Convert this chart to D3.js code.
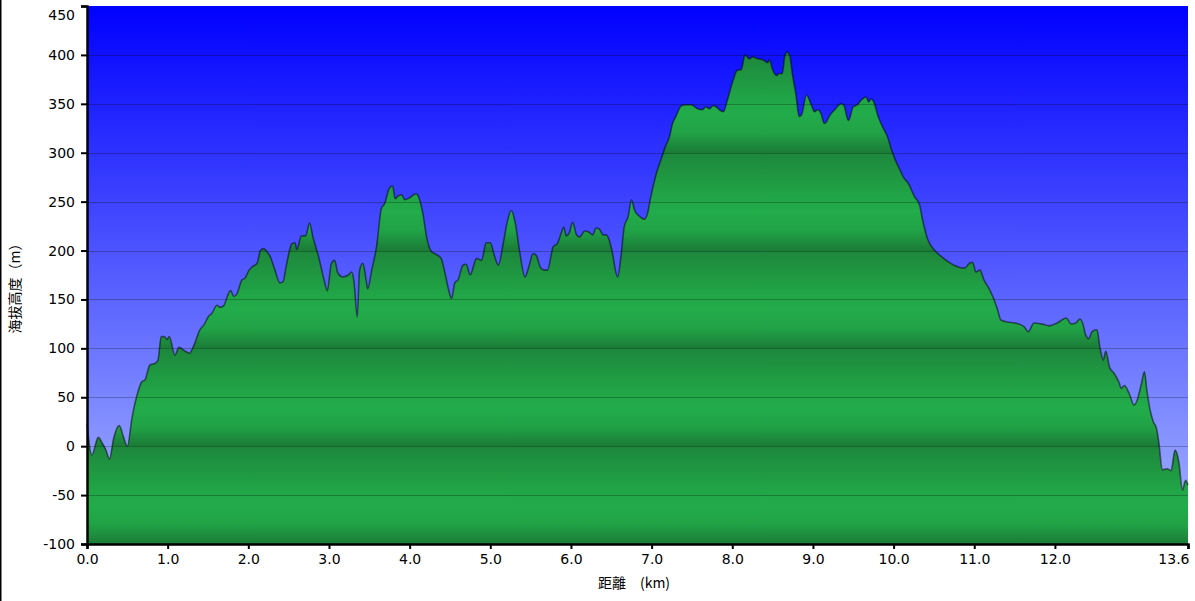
<!DOCTYPE html>
<html lang="zh">
<head>
    <meta charset="UTF-8">
    <title>海拔高度</title>
    <script src="https://cdnjs.cloudflare.com/ajax/libs/d3/7.8.5/d3.min.js"></script>
    <style>
        html, body { margin: 0; padding: 0; background: #fff; }
        svg { display: block; }
        .tick text { font-family: "DejaVu Sans", Verdana, sans-serif; font-size: 14px; fill: #000; }
        .axis-title { font-family: "Noto Sans CJK TC", "DejaVu Sans", sans-serif; font-size: 14px; fill: #000; }
    </style>
</head>
<body>
<svg width="1195" height="601"></svg>
<script>
    // Distance along the route (km)
    const distances = [
        0.00, 0.06, 0.14, 0.19, 0.23, 0.28, 0.33, 0.40, 0.45, 0.50, 0.56, 0.62, 0.68, 0.72, 0.78, 0.85, 0.88, 0.92, 0.96, 0.99,
        1.02, 1.09, 1.14, 1.22, 1.27, 1.32, 1.40, 1.45, 1.51, 1.55, 1.61, 1.65, 1.70, 1.73, 1.78, 1.82, 1.86, 1.92, 1.96,
        2.01, 2.06, 2.11, 2.15, 2.19, 2.23, 2.27, 2.33, 2.39, 2.43, 2.47, 2.54, 2.58, 2.60, 2.66, 2.71, 2.76, 2.80, 2.87, 2.93, 2.98,
        3.03, 3.07, 3.11, 3.17, 3.24, 3.28, 3.31, 3.35, 3.38, 3.42, 3.46, 3.48, 3.53, 3.59, 3.65, 3.69, 3.75, 3.79, 3.82, 3.86, 3.90, 3.94,
        4.00, 4.08, 4.12, 4.17, 4.21, 4.27, 4.33, 4.39, 4.43, 4.48, 4.52, 4.56, 4.60, 4.66, 4.70, 4.75, 4.83, 4.89, 4.95,
        5.00, 5.05, 5.10, 5.16, 5.21, 5.26, 5.31, 5.36, 5.43, 5.48, 5.53, 5.57, 5.62, 5.67, 5.71, 5.78, 5.83, 5.88, 5.91, 5.94, 5.98,
        6.02, 6.07, 6.11, 6.17, 6.22, 6.27, 6.31, 6.35, 6.40, 6.44, 6.48, 6.52, 6.55, 6.58, 6.62, 6.66, 6.71, 6.75, 6.79, 6.85, 6.91, 6.95, 6.99,
        7.06, 7.12, 7.17, 7.22, 7.26, 7.30, 7.37, 7.43, 7.49, 7.57, 7.63, 7.67, 7.72, 7.76, 7.80, 7.84, 7.89, 7.94,
        8.01, 8.06, 8.11, 8.16, 8.21, 8.25, 8.32, 8.38, 8.44, 8.46, 8.50, 8.55, 8.58, 8.62, 8.65, 8.68, 8.71, 8.75, 8.79, 8.83, 8.86, 8.92, 8.98,
        9.02, 9.06, 9.10, 9.14, 9.17, 9.20, 9.27, 9.35, 9.38, 9.44, 9.50, 9.55, 9.60, 9.66, 9.69, 9.72, 9.76, 9.80, 9.86, 9.93, 9.97,
        10.02, 10.07, 10.13, 10.18, 10.26, 10.32, 10.36, 10.42, 10.50, 10.59, 10.67, 10.75, 10.81, 10.88, 10.94, 10.98,
        11.02, 11.07, 11.12, 11.19, 11.25, 11.29, 11.33, 11.41, 11.50, 11.58, 11.62, 11.67, 11.74, 11.83, 11.93,
        12.03, 12.14, 12.20, 12.26, 12.31, 12.35, 12.38, 12.42, 12.46, 12.52, 12.56, 12.60, 12.63, 12.68, 12.73, 12.80, 12.82, 12.86, 12.92, 12.98,
        13.02, 13.07, 13.11, 13.14, 13.18, 13.22, 13.26, 13.29, 13.33, 13.39, 13.44, 13.49, 13.54, 13.58, 13.62, 13.65
    ];

    // Elevation at each distance (m)
    const elevations = [
        23, -9, 9, 3, -3, -13, 8, 21, 10, 0, 30, 52, 66, 68, 83, 85, 88, 112, 112, 109,
        112, 93, 101, 97, 95, 102, 119, 124, 133, 136, 144, 142, 144, 151, 159, 153, 156, 170, 172,
        180, 184, 187, 200, 202, 199, 194, 180, 167, 168, 184, 207, 208, 201, 215, 215, 228, 214, 194, 173, 159,
        187, 190, 177, 173, 175, 178, 168, 132, 180, 187, 170, 161, 180, 204, 243, 248, 264, 266, 253, 256, 257, 252,
        254, 258, 253, 235, 214, 199, 196, 192, 180, 161, 151, 167, 170, 185, 186, 175, 192, 190, 208,
        208, 195, 185, 207, 229, 241, 228, 201, 173, 184, 197, 195, 183, 180, 180, 204, 207, 218, 224, 215, 218,
        229, 216, 214, 220, 219, 216, 223, 222, 216, 216, 209, 195, 180, 173, 194, 224, 235, 252, 241, 235, 232, 238, 255,
        279, 294, 306, 316, 330, 337, 348, 349, 349, 345, 344, 347, 345, 348, 347, 344, 342, 354,
        374, 384, 385, 400, 396, 398, 396, 395, 392, 395, 385, 379, 381, 381, 398, 403, 400, 378, 359, 337, 339, 359, 349,
        342, 344, 340, 330, 332, 337, 344, 350, 349, 333, 347, 349, 354, 357, 352, 355, 351, 339, 327, 315, 304,
        293, 284, 274, 269, 255, 247, 231, 212, 201, 194, 189, 185, 183, 182, 187, 188,
        178, 180, 170, 160, 149, 139, 129, 127, 126, 124, 122, 117, 126, 125, 123,
        126, 131, 125, 126, 130, 124, 114, 110, 117, 119, 100, 88, 97, 80, 75, 64, 59, 62, 54, 42,
        47, 63, 76, 57, 37, 25, 18, 3, -24, -23, -25, -4, -18, -45, -35, -40
    ];

    // Axis ticks and labels
    const xTickValues = [0, 1, 2, 3, 4, 5, 6, 7, 8, 9, 10, 11, 12, 13.65];
    const xTickLabels = ["0.0", "1.0", "2.0", "3.0", "4.0", "5.0", "6.0", "7.0", "8.0", "9.0", "10.0", "11.0", "12.0", "13.6"];
    const yTickValues = [-100, -50, 0, 50, 100, 150, 200, 250, 300, 350, 400, 450];

    const profile = distances.map((d, i) => ({ km: d, elev: elevations[i] }));

    const svg = d3.select("svg");
    const margin = { top: 6, right: 7, bottom: 57, left: 87 };
    const width = 1195 - margin.left - margin.right;
    const height = 601 - margin.top - margin.bottom;

    const x = d3.scaleLinear().domain([0, 13.65]).range([0, width]);
    const y = d3.scaleLinear().domain([-100, 450]).range([height, 0]);

    // Gradients: sky and banded green ground
    const defs = svg.append("defs");
    const sky = defs.append("linearGradient")
        .attr("id", "sky").attr("x1", 0).attr("y1", 0).attr("x2", 0).attr("y2", 1);
    sky.append("stop").attr("offset", 0).attr("stop-color", "#0000ff");
    sky.append("stop").attr("offset", 1).attr("stop-color", "#a8b8ff");

    const ground = defs.append("linearGradient")
        .attr("id", "ground")
        .attr("gradientUnits", "userSpaceOnUse")
        .attr("spreadMethod", "repeat")
        .attr("x1", 0).attr("x2", 0)
        .attr("y1", y(200)).attr("y2", y(100));
    [[0, "#1d873c"], [0.45, "#21a547"], [0.6, "#22ac4a"], [0.8, "#21a246"], [1, "#1b7b37"]]
        .forEach(([o, c]) => ground.append("stop").attr("offset", o).attr("stop-color", c));

    // Left border of the picture
    svg.append("line")
        .attr("x1", 0.75).attr("x2", 0.75).attr("y1", 0).attr("y2", 601)
        .attr("stroke", "#000").attr("stroke-width", 1.5);

    const g = svg.append("g").attr("transform", `translate(${margin.left},${margin.top})`);

    g.append("rect").attr("width", width).attr("height", height).attr("fill", "url(#sky)");

    const area = d3.area()
        .x(d => x(d.km))
        .y0(y(-100))
        .y1(d => y(d.elev))
        .curve(d3.curveMonotoneX);

    const line = d3.line()
        .x(d => x(d.km))
        .y(d => y(d.elev))
        .curve(d3.curveMonotoneX);

    g.append("path").datum(profile).attr("d", area).attr("fill", "url(#ground)");

    // Horizontal grid lines
    g.append("g")
        .selectAll("line")
        .data(yTickValues.filter(v => v > -100 && v < 450))
        .enter()
        .append("line")
        .attr("x1", 0).attr("x2", width)
        .attr("y1", d => Math.round(y(d)) + 0.5).attr("y2", d => Math.round(y(d)) + 0.5)
        .attr("stroke", "#000").attr("stroke-opacity", 0.25);

    g.append("path").datum(profile)
        .attr("d", line)
        .attr("fill", "none")
        .attr("stroke", "#000")
        .attr("stroke-opacity", 0.5)
        .attr("stroke-width", 1.6)
        .attr("stroke-linejoin", "round");

    // Axes
    const yAxis = g.append("g")
        .call(d3.axisLeft(y).tickValues(yTickValues).tickSize(6).tickPadding(6).tickFormat(d => String(d)));
    const xAxis = g.append("g")
        .attr("transform", `translate(0,${height})`)
        .call(d3.axisBottom(x).tickValues(xTickValues).tickSize(5).tickPadding(5)
            .tickFormat((d, i) => xTickLabels[i]));

    [yAxis, xAxis].forEach(a => {
        a.select(".domain").attr("stroke", "#000").attr("stroke-width", 2.5);
        a.selectAll(".tick line").attr("stroke", "#000").attr("stroke-width", 2);
    });

    // Top label sits under its tick, last distance label ends at its tick
    yAxis.selectAll(".tick").filter(d => d === 450).select("text").attr("dy", "0.95em");
    xAxis.selectAll(".tick").filter(d => d === 13.65).select("text")
        .attr("text-anchor", "end").attr("dx", "1px");

    // Axis titles
    svg.append("text")
        .attr("class", "axis-title")
        .attr("x", 634)
        .attr("y", 588)
        .attr("text-anchor", "middle")
        .text("距離　(km)");

    svg.append("text")
        .attr("class", "axis-title")
        .attr("transform", "translate(20,285) rotate(-90)")
        .attr("text-anchor", "middle")
        .text("海拔高度（m）");
</script>
</body>
</html>
